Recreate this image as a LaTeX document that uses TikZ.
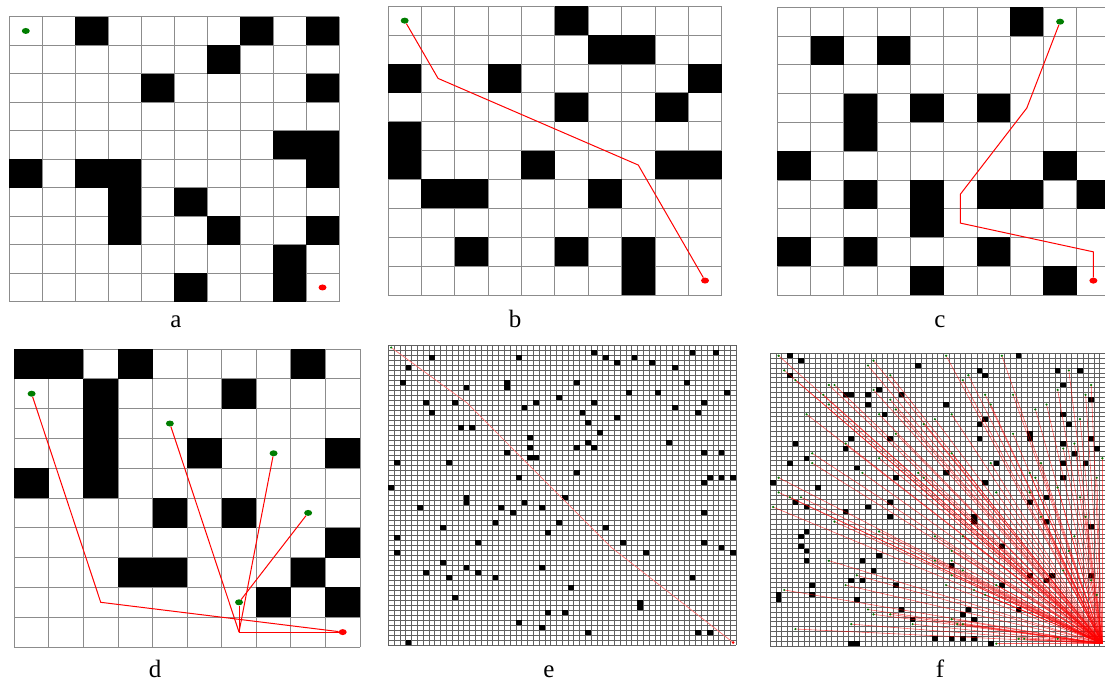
\documentclass[tikz,border=0pt]{standalone}
\usepackage{fontspec}
\setmainfont{Liberation Serif}
\usepackage{xcolor}
\usepackage{tikz}
\usetikzlibrary{shapes.geometric}

\definecolor{dotgreen}{RGB}{0,125,0}
\definecolor{dotred}{RGB}{255,0,0}

\tikzset{
  gridline/.style={draw=black!45, line width=0.8pt},
  finegrid/.style={draw=black!62, line width=0.5pt},
  obstacle/.style={fill=black},
  startdot/.style={ellipse, fill=dotgreen, inner sep=0pt, minimum width=8pt, minimum height=6pt},
  goaldot/.style={ellipse, fill=dotred, inner sep=0pt, minimum width=8pt, minimum height=6pt},
  tinydot/.style={circle, inner sep=0pt, minimum size=2.4pt},
  pathline/.style={draw=red, line width=1pt},
  thinpath/.style={draw=red!55, line width=0.7pt},
  rayline/.style={draw=red, line width=0.6pt, opacity=0.6},
  panellabel/.style={font=\fontsize{25}{30}\selectfont, anchor=base, inner sep=0pt}
}

% goal cells of panel f (column/row)
\newcommand{\fgoallist}{1/0,2/3,4/5,10/6,11/6,9/8,10/10,6/12,18/1,17/2,21/4,21/9,22/11,19/12,18/7,
  31/0,34/5,35/4,41/0,38/8,39/10,43/8,47/11,49/10,53/3,51/7,57/6,56/8,55/13,32/12,29/13,27/14,
  22/16,13/18,7/20,7/22,19/21,32/20,16/24,26/24,27/25,39/22,43/16,48/22,46/24,47/25,51/27,54/18,
  52/19,58/25,1/25,1/28,3/29,5/29,0/31,11/34,19/36,29/37,32/40,34/37,40/28,46/28,48/33,55/29,
  56/33,54/37,53/40,29/42,32/42,34/44,32/45,10/42,15/45,13/47,31/47,36/48,38/49,40/47,46/48,
  52/44,57/46,58/49,2/48,17/52,18/53,21/53,14/55,25/55,32/54,33/55,34/55,4/56,40/59,44/58,
  45/58,51/58,59/21}

\begin{document}
\begin{tikzpicture}[x=1pt, y=-1pt]
  \fill[white] (0,0) rectangle (1105,683);
  \useasboundingbox (0,0) rectangle (1105,683);

  % panel a
  \begin{scope}[shift={(9.3,16.7)}, x=32.97pt, y=-28.5pt]
    \foreach \k in {0,...,10} {
      \draw[gridline] (\k,0) -- (\k,10);
      \draw[gridline] (0,\k) -- (10,\k);
    }
    \foreach \c/\r in {2/0,7/0,9/0,6/1,4/2,9/2,8/4,9/4,0/5,2/5,3/5,9/5,3/6,5/6,3/7,6/7,9/7,8/8,5/9,8/9}
      \fill[obstacle] (\c,\r) rectangle ++(1,1);
    \node[startdot] (a-start) at (0.5,0.5) {};
    \node[goaldot] (a-goal) at (9.5,9.5) {};
  \end{scope}
  \node[panellabel] (a-label) at (176,327) {a};

  % panel b
  \begin{scope}[shift={(388,6.2)}, x=33.37pt, y=-28.88pt]
    \foreach \k in {0,...,10} {
      \draw[gridline] (\k,0) -- (\k,10);
      \draw[gridline] (0,\k) -- (10,\k);
    }
    \foreach \c/\r in {5/0,6/1,7/1,0/2,3/2,9/2,5/3,8/3,0/4,0/5,4/5,8/5,9/5,1/6,2/6,6/6,2/8,5/8,7/8,7/9}
      \fill[obstacle] (\c,\r) rectangle ++(1,1);
    \node[startdot] (b-start) at (0.5,0.5) {};
    \node[goaldot] (b-goal) at (9.5,9.5) {};
    \coordinate (b-bend1) at (1.5,2.5);
    \coordinate (b-bend2) at (7.5,5.5);
    \draw[pathline] (b-start) -- (b-bend1) -- (b-bend2) -- (b-goal);
  \end{scope}
  \node[panellabel] (b-label) at (515,327) {b};

  % panel c
  \begin{scope}[shift={(777.3,7.3)}, x=33.27pt, y=-28.77pt]
    \foreach \k in {0,...,10} {
      \draw[gridline] (\k,0) -- (\k,10);
      \draw[gridline] (0,\k) -- (10,\k);
    }
    \foreach \c/\r in {7/0,1/1,3/1,2/3,4/3,6/3,2/4,0/5,8/5,2/6,4/6,6/6,7/6,9/6,4/7,0/8,2/8,6/8,4/9,8/9}
      \fill[obstacle] (\c,\r) rectangle ++(1,1);
    \node[startdot] (c-start) at (8.5,0.5) {};
    \node[goaldot] (c-goal) at (9.5,9.5) {};
    \coordinate (c-bend1) at (7.5,3.5);
    \coordinate (c-bend2) at (5.5,6.5);
    \coordinate (c-bend3) at (5.5,7.5);
    \coordinate (c-bend4) at (9.5,8.5);
    \draw[pathline] (c-start) -- (c-bend1) -- (c-bend2) -- (c-bend3) -- (c-bend4) -- (c-goal);
  \end{scope}
  \node[panellabel] (c-label) at (940,327) {c};

  % panel d
  \begin{scope}[shift={(14.3,349)}, x=34.57pt, y=-29.8pt]
    \foreach \k in {0,...,10} {
      \draw[gridline] (\k,0) -- (\k,10);
      \draw[gridline] (0,\k) -- (10,\k);
    }
    \foreach \c/\r in {0/0,1/0,3/0,8/0,2/1,6/1,2/2,2/3,5/3,9/3,0/4,2/4,4/5,6/5,9/6,3/7,4/7,8/7,7/8,9/8}
      \fill[obstacle] (\c,\r) rectangle ++(1,1);
    \node[startdot] (d-s1) at (0.5,1.5) {};
    \node[startdot] (d-s2) at (4.5,2.5) {};
    \node[startdot] (d-s3) at (7.5,3.5) {};
    \node[startdot] (d-s4) at (8.5,5.5) {};
    \node[startdot] (d-s5) at (6.5,8.5) {};
    \node[goaldot] (d-goal) at (9.5,9.5) {};
    \coordinate (d-bend) at (2.5,8.5);
    \coordinate (d-hub) at (6.5,9.5);
    \draw[pathline] (d-s1) -- (d-bend) -- (d-goal);
    \draw[pathline] (d-s2) -- (d-hub);
    \draw[pathline] (d-s3) -- (d-hub);
    \draw[pathline] (d-s4) -- (d-s5);
    \draw[pathline] (d-s5) -- (d-hub) -- (d-goal);
  \end{scope}
  \node[panellabel] (d-label) at (155,677) {d};

  % panel e
  \begin{scope}[shift={(388.3,345)}, x=5.795pt, y=-5pt]
    \foreach \k in {0,...,60} {
      \draw[finegrid] (\k,0) -- (\k,60);
      \draw[finegrid] (0,\k) -- (60,\k);
    }
    \foreach \c/\r in {7/2,3/4,2/7,22/2,20/7,20/8,13/8,6/11,11/11,7/13,12/16,14/16,35/1,37/2,39/3,42/2,
        45/3,52/1,56/1,49/4,51/7,32/7,29/10,25/11,23/12,35/11,33/13,34/15,39/14,36/17,41/9,46/9,58/9,
        54/11,49/12,53/13,24/18,24/20,24/22,25/22,20/21,32/20,34/19,35/20,48/19,54/21,57/21,1/23,10/23,
        0/28,22/26,32/25,55/26,54/27,57/26,59/26,13/30,13/31,5/32,23/31,19/32,21/33,26/32,30/30,29/35,
        18/35,9/36,37/36,27/37,54/33,1/38,1/41,15/39,40/39,44/41,54/39,57/40,59/41,9/43,6/45,13/44,
        15/45,10/46,18/46,26/44,52/46,31/48,11/50,43/51,43/52,27/53,30/53,22/55,26/56,34/57,53/57,
        55/57,3/59}
      \fill[obstacle] (\c,\r) rectangle ++(1,1);
    \node[tinydot, fill=dotgreen] (e-start) at (0.5,0.5) {};
    \node[tinydot, fill=dotred, minimum size=3pt] (e-goal) at (59.5,59.5) {};
    \coordinate (e-bend1) at (13.5,11.5);
    \coordinate (e-bend2) at (38.5,40.5);
    \draw[thinpath] (e-start) -- (e-bend1) -- (e-bend2) -- (e-goal);
  \end{scope}
  \node[panellabel] (e-label) at (549,677) {e};

  % panel f
  \begin{scope}[shift={(770.3,353.3)}, x=5.58pt, y=-4.88pt]
    \foreach \k in {0,...,60} {
      \draw[finegrid] (\k,0) -- (\k,60);
      \draw[finegrid] (0,\k) -- (60,\k);
    }
    \foreach \c/\r in {3/0,5/1,3/4,26/2,44/0,37/3,38/4,51/3,55/3,52/6,57/9,13/8,14/8,17/8,19/7,23/8,
        17/10,31/10,20/12,38/13,37/14,52/12,53/14,46/16,46/17,37/17,14/17,21/17,4/18,13/19,57/17,52/18,
        58/19,54/20,6/21,3/22,40/22,52/22,56/22,15/23,31/24,22/25,52/25,0/26,8/27,38/26,49/29,4/30,
        21/30,46/30,6/31,17/31,21/33,13/32,36/33,36/34,49/34,57/35,6/36,5/37,5/39,6/40,6/42,41/39,
        19/41,16/42,32/43,18/44,14/46,16/46,46/45,49/46,50/45,57/45,7/47,7/49,22/47,41/47,1/49,1/50,
        15/50,23/52,35/52,34/53,44/52,25/54,36/54,29/58,32/58,34/58,36/58,14/59,15/59,39/59}
      \fill[obstacle] (\c,\r) rectangle ++(1,1);
    \coordinate (f-sink) at (59.5,59.5);
    \foreach \c/\r [count=\i] in \fgoallist
      \coordinate (f-g\i) at (\c+0.5,\r+0.5);
    \foreach \c/\r [count=\i] in \fgoallist
      \draw[rayline] (f-g\i) -- (f-sink);
    \foreach \c/\r [count=\i] in \fgoallist
      \node[tinydot, fill=dotgreen] (f-dot\i) at (f-g\i) {};
  \end{scope}
  \node[panellabel] (f-label) at (940,677) {f};
\end{tikzpicture}
\end{document}
